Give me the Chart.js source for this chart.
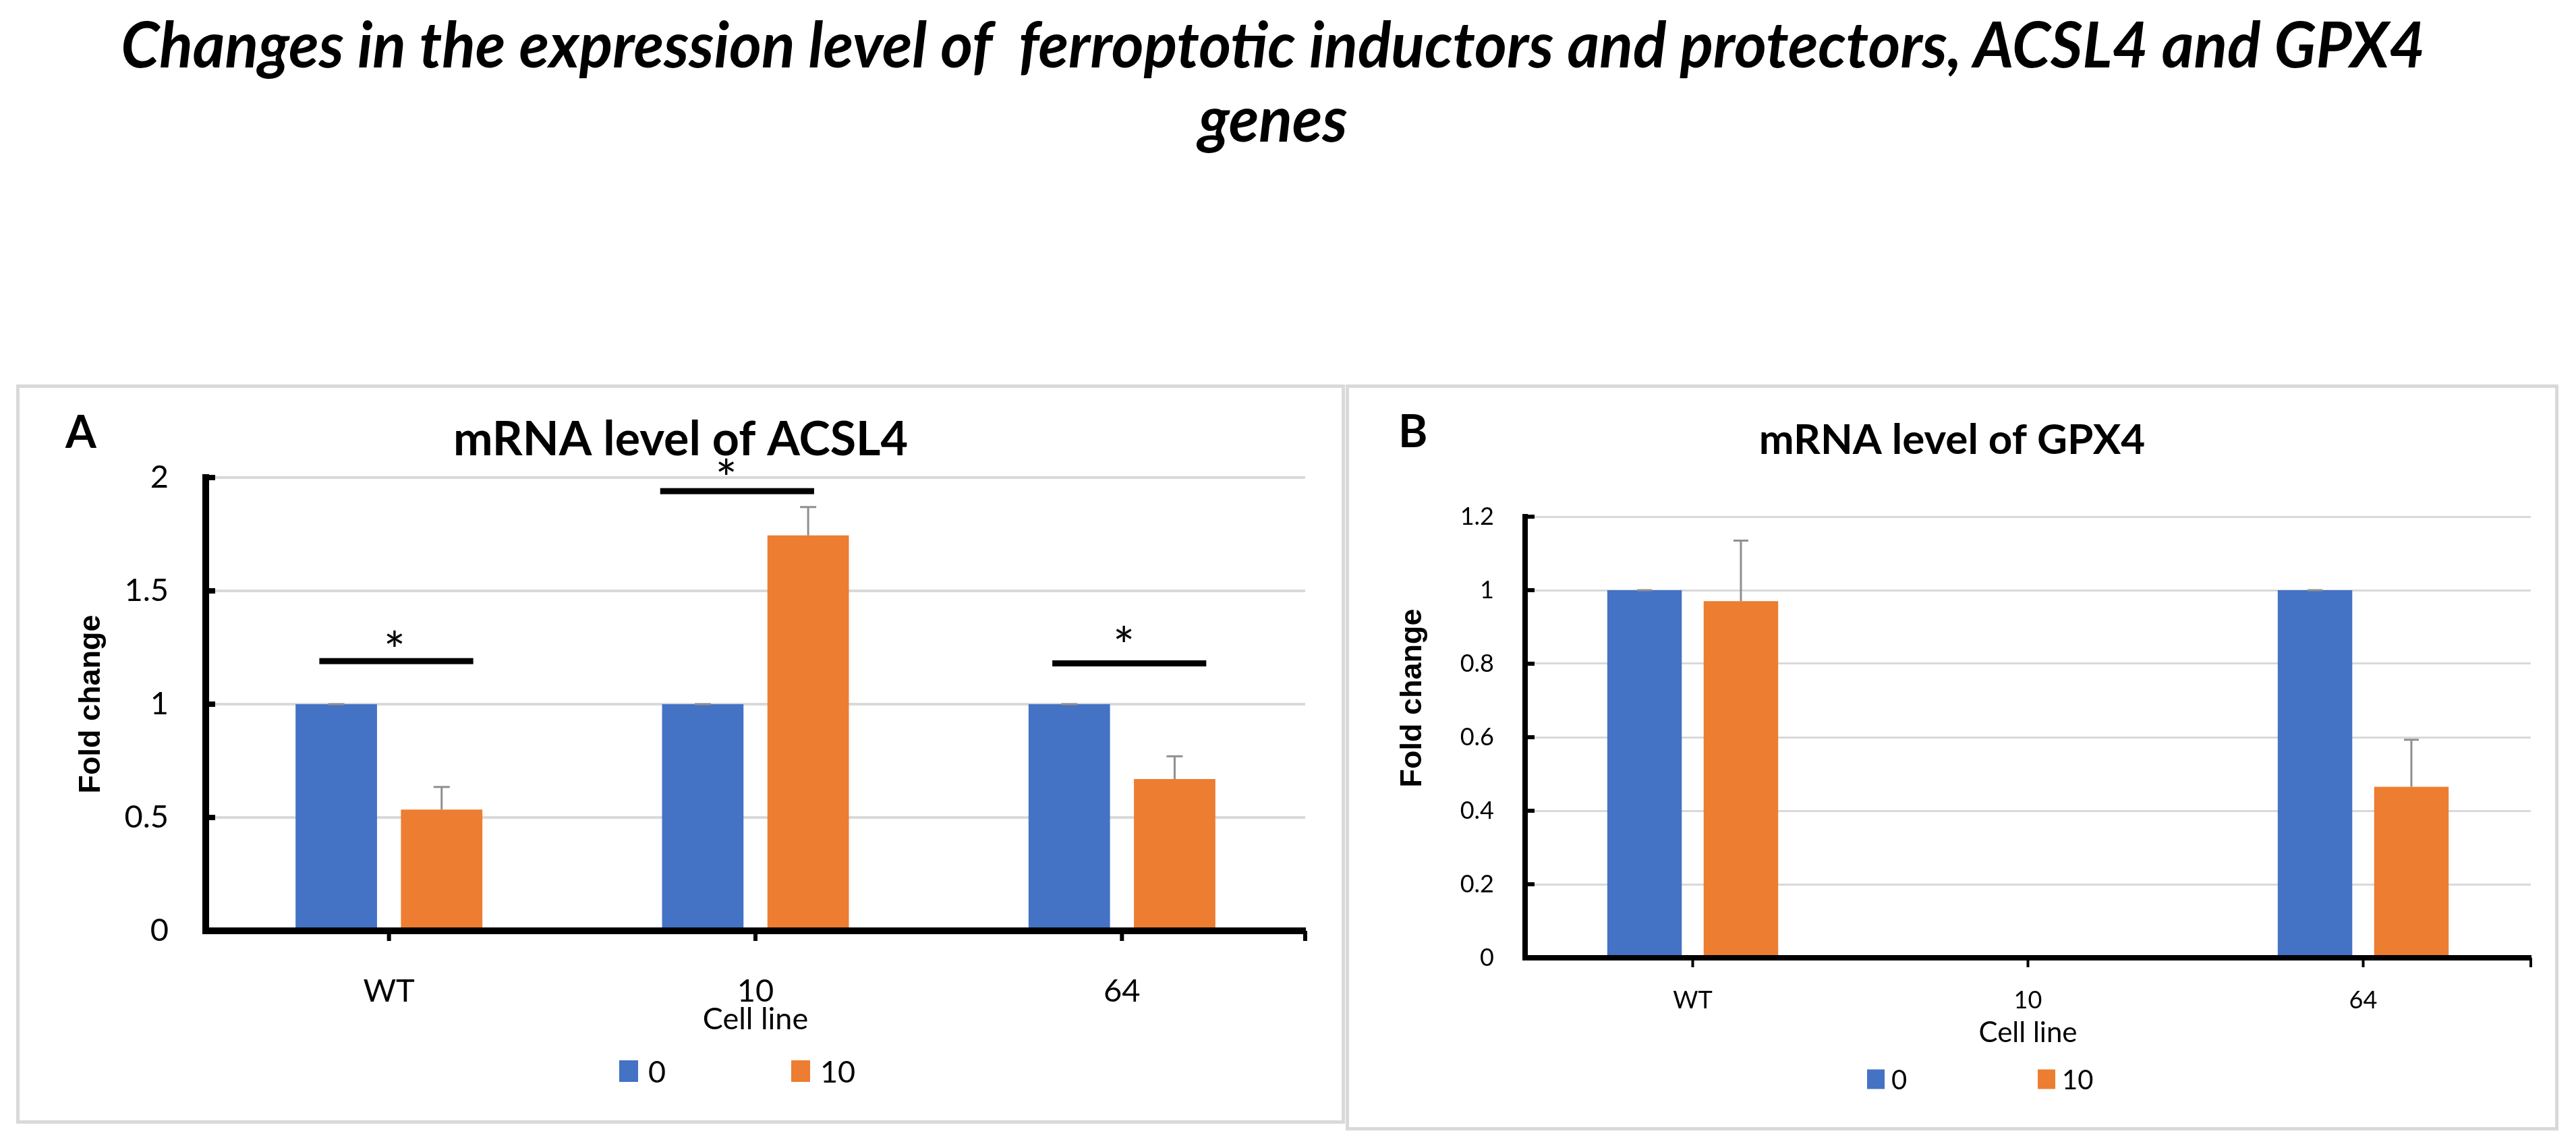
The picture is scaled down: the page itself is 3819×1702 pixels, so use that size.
<!doctype html>
<html>
<head>
<meta charset="utf-8">
<title>ACSL4 and GPX4 expression</title>
<script src="https://cdn.jsdelivr.net/npm/chart.js@4.4.0/dist/chart.umd.min.js"></script>
<style>
  html, body { margin: 0; padding: 0; background: #fff; }
  body { width: 3819px; height: 1702px; position: relative; overflow: hidden; }
  .line { position: absolute; left: -22px; width: 3819px; text-align: center; white-space: pre;
          font: italic bold 93px Lato, sans-serif; line-height: 93px; color: #000; }
  .line span { display: inline-block; transform-origin: 50% 50%; }
  .panel { position: absolute; border: 5px solid #d9d9d9; box-sizing: border-box; background: #fff; }
  .panel canvas { position: absolute; left: 0; top: 0; }
  .tag { position: absolute; font: bold 66px Lato, sans-serif; line-height: 66px; color: #000; }
</style>
</head>
<body>
<div class="line" id="t1" style="top:18px"><span>Changes in the expression level of  ferroptotic inductors and protectors, ACSL4 and GPX4</span></div>
<div class="line" id="t2" style="top:128px"><span>genes</span></div>

<div class="panel" id="panelA"><canvas id="chartA"></canvas></div>
<div class="panel" id="panelB"><canvas id="chartB"></canvas></div>
<div class="tag" style="left:97px; top:606px">A</div>
<div class="tag" style="left:2073px; top:605px">B</div>

<script>
// ---- data ----
var categories = ['WT', '10', '64'];
var seriesNames = ['0', '10'];

// A: mRNA level of ACSL4
var acsl4Control = [1, 1, 1];
var acsl4Treated = [0.535, 1.745, 0.67];
var acsl4ControlErr = [0, 0, 0];
var acsl4TreatedErr = [0.10, 0.125, 0.10];
var acsl4Ticks = [0, 0.5, 1, 1.5, 2];

// significance bars on A (x in category units, y in fold change)
var sigFrom = [-0.19, 0.74, 1.81];
var sigTo = [0.23, 1.16, 2.23];
var sigLevel = [1.19, 1.94, 1.18];
var starAt = [0.015, 0.92, 2.005];
var starLevel = [1.29, 2.05, 1.31];

// B: mRNA level of GPX4 (no bars for line 10)
var gpx4Control = [1, null, 1];
var gpx4Treated = [0.97, null, 0.465];
var gpx4ControlErr = [0, null, 0];
var gpx4TreatedErr = [0.165, null, 0.128];
var gpx4Ticks = [0, 0.2, 0.4, 0.6, 0.8, 1, 1.2];

var colors = ['#4472C4', '#ED7D31'];

// ---- layout (page pixels) ----
var layoutA = {
  box: [24, 570, 1994, 1666], area: [305, 708, 1935, 1380],
  titleBase: 680, titleSize: 70, tickSize: 47, xLabelBase: 1488,
  axisTitleSize: 45, axisTitleBase: 1529, foldX: 136, foldY: 1044, foldSize: 45, yLabelRight: 250,
  legendX: 918, legendY: 1588, legendStep: 255, legendBox: [28, 32], legendGap: 15, legendSize: 45,
  axisWidth: 10, gridWidth: 4, tickW: 8, errW: 3, errCap: 12, starSize: 76
};
var layoutB = {
  box: [1995, 570, 3793, 1676], area: [2261, 766, 3752, 1420],
  titleBase: 677, titleSize: 62, tickSize: 36, xLabelBase: 1497,
  axisTitleSize: 42, axisTitleBase: 1548, foldX: 2095, foldY: 1035, foldSize: 45, yLabelRight: 2215,
  legendX: 2768, legendY: 1600, legendStep: 253, legendBox: [26, 29], legendGap: 10, legendSize: 40,
  axisWidth: 8, gridWidth: 3, tickW: 6, errW: 3, errCap: 11, starSize: 76
};

var K = 0.387; // alphabetic baseline sits this many em below canvas 'middle' (Lato)

function makePanel(id, canvasId, L, ctrl, trt, ctrlErr, trtErr, ticks, title, sig) {
  var box = L.box, area = L.area;
  var wrap = document.getElementById(id);
  wrap.style.left = box[0] + 'px';
  wrap.style.top = box[1] + 'px';
  wrap.style.width = (box[2] - box[0]) + 'px';
  wrap.style.height = (box[3] - box[1]) + 'px';
  var cx = box[0] + 5, cy = box[1] + 5;
  var W = box[2] - box[0] - 10, H = box[3] - box[1] - 10;
  var canvas = document.getElementById(canvasId);
  canvas.width = W; canvas.height = H;
  canvas.style.width = W + 'px'; canvas.style.height = H + 'px';

  var side = cx + W - area[2];
  var tMid = L.titleBase - cy - K * L.titleSize;
  var tTop = tMid - 0.6 * L.titleSize;
  var tBottom = area[1] - cy - tTop - 1.2 * L.titleSize;
  var xPad = L.xLabelBase - K * L.tickSize - area[3] - 0.6 * L.tickSize;
  var xTitlePad = H - 0.6 * L.axisTitleSize - (L.axisTitleBase - cy - K * L.axisTitleSize);

  // error bars from the dataset's own errors array
  var errorBars = {
    id: 'errorBars',
    afterDatasetsDraw: function (chart) {
      var ctx = chart.ctx, y = chart.scales.y;
      ctx.save();
      ctx.strokeStyle = '#8f8f8f';
      ctx.lineWidth = L.errW;
      chart.data.datasets.forEach(function (ds, i) {
        chart.getDatasetMeta(i).data.forEach(function (bar, j) {
          var v = ds.data[j];
          if (v === null) return;
          var top = y.getPixelForValue(v + ds.errors[j]);
          ctx.beginPath();
          ctx.moveTo(bar.x, y.getPixelForValue(v));
          ctx.lineTo(bar.x, top);
          ctx.moveTo(bar.x - L.errCap, top);
          ctx.lineTo(bar.x + L.errCap, top);
          ctx.stroke();
        });
      });
      ctx.restore();
    }
  };

  // inward y ticks, x ticks under the axis, y title, legend and significance marks
  var marks = {
    id: 'marks',
    afterDraw: function (chart) {
      var ctx = chart.ctx, x = chart.scales.x, y = chart.scales.y;
      ctx.save();
      ctx.fillStyle = '#000';
      ticks.forEach(function (v) {
        var py = y.getPixelForValue(v);
        ctx.fillRect(x.left, py - L.tickW / 2, 14, L.tickW);
      });
      var xs = categories.map(function (c, i) { return x.getPixelForValue(i); });
      xs.push(x.right);
      xs.forEach(function (px) {
        ctx.fillRect(px - L.tickW / 2 + 1, y.bottom, L.tickW - 2, L.axisWidth / 2 + 10);
      });

      // y axis title
      ctx.save();
      ctx.translate(L.foldX - cx, L.foldY - cy);
      ctx.rotate(-Math.PI / 2);
      ctx.font = 'bold ' + L.foldSize + 'px "Liberation Sans", Arial, sans-serif';
      ctx.textAlign = 'center';
      ctx.textBaseline = 'middle';
      ctx.fillText('Fold change', 0, 0);
      ctx.restore();

      // legend
      ctx.font = L.legendSize + 'px Lato';
      ctx.textBaseline = 'middle';
      ctx.textAlign = 'left';
      seriesNames.forEach(function (name, i) {
        var bx = L.legendX - cx + i * L.legendStep;
        var by = L.legendY - cy;
        ctx.fillStyle = colors[i];
        ctx.fillRect(bx, by - L.legendBox[1] / 2, L.legendBox[0], L.legendBox[1]);
        ctx.fillStyle = '#000';
        ctx.fillText(name, bx + L.legendBox[0] + L.legendGap, by + 2);
      });

      if (sig) {
        ctx.fillStyle = '#000';
        ctx.font = L.starSize + 'px Lato';
        ctx.textAlign = 'center';
        ctx.textBaseline = 'alphabetic';
        var m = ctx.measureText('*');
        var shift = (m.actualBoundingBoxAscent - m.actualBoundingBoxDescent) / 2;
        sig.from.forEach(function (f, i) {
          var x1 = x.getPixelForValue(f), x2 = x.getPixelForValue(sig.to[i]);
          var py = y.getPixelForValue(sig.level[i]);
          ctx.fillRect(x1, py - 4.5, x2 - x1, 9);
          ctx.fillText('*', x.getPixelForValue(sig.star[i]), y.getPixelForValue(sig.starLevel[i]) + shift);
        });
      }
      ctx.restore();
    }
  };

  return new Chart(canvas.getContext('2d'), {
    type: 'bar',
    data: {
      labels: categories,
      datasets: [
        { label: seriesNames[0], data: ctrl, errors: ctrlErr, backgroundColor: colors[0] },
        { label: seriesNames[1], data: trt, errors: trtErr, backgroundColor: colors[1] }
      ]
    },
    options: {
      responsive: false,
      animation: false,
      devicePixelRatio: 1,
      categoryPercentage: 0.575,
      barPercentage: 0.773,
      layout: { padding: { left: side, right: side, top: 0, bottom: 0 } },
      plugins: {
        legend: { display: false },
        tooltip: { enabled: false },
        title: {
          display: true, text: title, color: '#000',
          font: { size: L.titleSize, weight: 'bold', lineHeight: 1.2 },
          padding: { top: tTop, bottom: tBottom }
        }
      },
      scales: {
        x: {
          grid: { display: false, drawTicks: false },
          border: { display: true, color: '#000', width: L.axisWidth, z: 1 },
          ticks: { padding: xPad, font: { size: L.tickSize }, color: '#000' },
          title: {
            display: true, text: 'Cell line', color: '#000',
            font: { size: L.axisTitleSize, lineHeight: 1.2 },
            padding: { top: 0, bottom: xTitlePad }
          },
          afterFit: function (s) { s.height = cy + H - area[3]; }
        },
        y: {
          min: ticks[0], max: ticks[ticks.length - 1],
          afterBuildTicks: function (s) { s.ticks = ticks.map(function (v) { return { value: v }; }); },
          grid: { color: '#d9d9d9', lineWidth: L.gridWidth, drawTicks: false },
          border: { display: true, color: '#000', width: L.axisWidth, z: 1 },
          ticks: {
            padding: area[0] - L.yLabelRight, font: { size: L.tickSize }, color: '#000',
            callback: function (v) { return String(v); }
          },
          afterFit: function (s) { s.width = area[0] - cx - side; }
        }
      }
    },
    plugins: [errorBars, marks]
  });
}

function fitTitle() {
  var s1 = document.querySelector('#t1 span');
  var s2 = document.querySelector('#t2 span');
  var k = 3416 / s1.getBoundingClientRect().width;
  s1.style.transform = 'scaleX(' + k + ')';
  s2.style.transform = 'scaleX(' + k + ')';
}

function drawAll() {
  Chart.defaults.font.family = 'Lato, sans-serif';
  Chart.defaults.color = '#000';
  fitTitle();
  makePanel('panelA', 'chartA', layoutA, acsl4Control, acsl4Treated, acsl4ControlErr, acsl4TreatedErr,
    acsl4Ticks, 'mRNA level of ACSL4',
    { from: sigFrom, to: sigTo, level: sigLevel, star: starAt, starLevel: starLevel });
  makePanel('panelB', 'chartB', layoutB, gpx4Control, gpx4Treated, gpx4ControlErr, gpx4TreatedErr,
    gpx4Ticks, 'mRNA level of GPX4', null);
}

Promise.all([
  document.fonts.load('60px Lato'),
  document.fonts.load('bold 60px Lato'),
  document.fonts.load('italic bold 93px Lato'),
  document.fonts.load('bold 45px "Liberation Sans"')
]).then(drawAll, drawAll);
</script>
</body>
</html>
